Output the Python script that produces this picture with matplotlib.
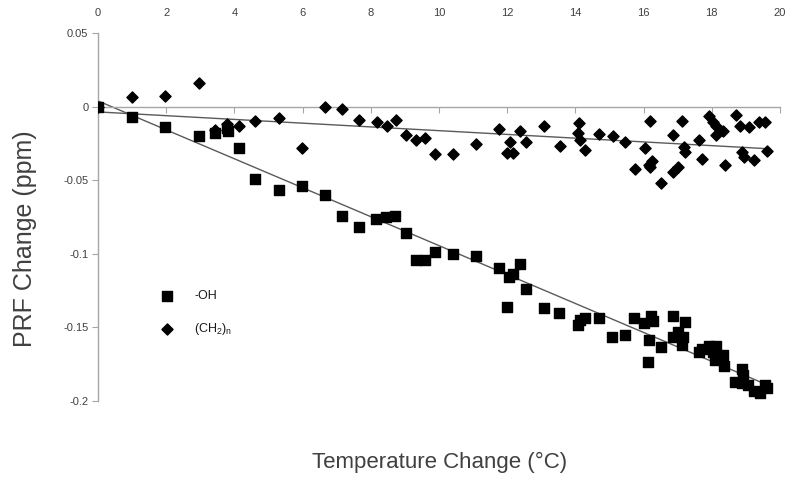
import matplotlib
matplotlib.use('Agg')
import matplotlib.pyplot as plt
import numpy as np
from matplotlib.ticker import FuncFormatter

# Data
oh_temp = [0, 0.99, 1.97, 2.97, 3.44, 3.78, 3.80, 4.13, 4.61, 5.30, 5.98, 6.65,
           7.17, 7.66, 8.16, 8.45, 8.72, 9.02, 9.34, 9.59, 9.88, 10.41, 11.08,
           11.75, 11.99, 12.06, 12.18, 12.37, 12.56, 13.07, 13.53, 14.09, 14.13,
           14.28, 14.68, 15.08, 15.45, 15.73, 16.02, 16.14, 16.17, 16.21, 16.27,
           16.50, 16.85, 16.85, 17.02, 17.12, 17.16, 17.21, 17.62, 17.70, 17.92,
           18.04, 18.09, 18.11, 18.34, 18.37, 18.68, 18.88, 18.89, 18.92, 19.07,
           19.24, 19.41, 19.56, 19.61]
oh_prf = [0, -0.0073, -0.0138, -0.0201, -0.0176, -0.0148, -0.0168, -0.0280,
          -0.0493, -0.0563, -0.0542, -0.0599, -0.0741, -0.0818, -0.0766, -0.0748,
          -0.0741, -0.0861, -0.1039, -0.1039, -0.0988, -0.0999, -0.1015, -0.1094,
          -0.1363, -0.1157, -0.1134, -0.1071, -0.1239, -0.1370, -0.1405, -0.1485,
          -0.1451, -0.1437, -0.1435, -0.1564, -0.1550, -0.1435, -0.1469, -0.1738,
          -0.1587, -0.1424, -0.1456, -0.1636, -0.1422, -0.1564, -0.1530, -0.1620,
          -0.1564, -0.1462, -0.1666, -0.1650, -0.1627, -0.1666, -0.1722, -0.1627,
          -0.1688, -0.1763, -0.1869, -0.1876, -0.1785, -0.1824, -0.1892, -0.1930,
          -0.1948, -0.1892, -0.1915]

ch2_temp = [0, 0.99, 1.97, 2.97, 3.44, 3.79, 4.13, 4.61, 5.30, 5.98, 6.65, 7.16,
            7.66, 8.18, 8.47, 8.74, 9.03, 9.32, 9.60, 9.89, 10.40, 11.08, 11.77,
            11.98, 12.07, 12.18, 12.37, 12.56, 13.08, 13.55, 14.08, 14.11, 14.13,
            14.29, 14.69, 15.09, 15.45, 15.74, 16.03, 16.15, 16.19, 16.19, 16.24,
            16.51, 16.87, 16.87, 17.02, 17.12, 17.18, 17.22, 17.61, 17.70, 17.92,
            18.04, 18.11, 18.11, 18.33, 18.38, 18.72, 18.83, 18.89, 18.94, 19.08,
            19.24, 19.39, 19.56, 19.61]
ch2_prf = [0, 0.0063, 0.0070, 0.0161, -0.0158, -0.0117, -0.0134, -0.0097,
           -0.0077, -0.0283, -0.0002, -0.0018, -0.0090, -0.0102, -0.0134, -0.0088,
           -0.0190, -0.0226, -0.0215, -0.0321, -0.0321, -0.0251, -0.0154, -0.0317,
           -0.0242, -0.0317, -0.0163, -0.0240, -0.0131, -0.0267, -0.0181, -0.0113,
           -0.0226, -0.0292, -0.0185, -0.0201, -0.0240, -0.0425, -0.0283, -0.0393,
           -0.0097, -0.0412, -0.0366, -0.0517, -0.0190, -0.0441, -0.0412, -0.0097,
           -0.0276, -0.0305, -0.0226, -0.0357, -0.0063, -0.0106, -0.0129, -0.0194,
           -0.0163, -0.0393, -0.0059, -0.0131, -0.0310, -0.0344, -0.0140, -0.0362,
           -0.0102, -0.0102, -0.0298]

x_ticks = [0, 2, 4, 6, 8, 10, 12, 14, 16, 18, 20]
y_ticks = [0.05, 0, -0.05, -0.1, -0.15, -0.2]

plt.rcParams['font.family'] = ['Liberation Sans', 'DejaVu Sans']
plt.rcParams['mathtext.fontset'] = 'custom'
plt.rcParams['mathtext.rm'] = 'Liberation Sans'
plt.rcParams['mathtext.it'] = 'Liberation Sans'
plt.rcParams['axes.unicode_minus'] = False

AXIS_GRAY = '#a6a6a6'
LABEL_GRAY = '#404040'
TREND_GRAY = '#5a5a5a'

fig = plt.figure(figsize=(8, 4.8), dpi=100)
ax = fig.add_axes([0.1225, 0.1646, 0.8525, 0.7664])

ax.scatter(oh_temp, oh_prf, marker='s', s=55, color='black', zorder=3, label='-OH')
ax.scatter(ch2_temp, ch2_prf, marker='D', s=32, color='black', zorder=3,
           label='(CH$_\\mathrm{2}$)$_\\mathrm{n}$')

# linear trend lines, like the spreadsheet ones
for xs, ys in [(oh_temp, oh_prf), (ch2_temp, ch2_prf)]:
    slope, icpt = np.polyfit(xs, ys, 1)
    line_x = np.array([0, max(xs)])
    ax.plot(line_x, slope * line_x + icpt, color=TREND_GRAY, lw=1.0, zorder=2)

ax.set_xlim(0, 20)
ax.set_ylim(-0.2, 0.05)
ax.set_xticks(x_ticks)
ax.set_yticks(y_ticks)
ax.yaxis.set_major_formatter(FuncFormatter(lambda v, p: '%g' % round(v, 3)))

ax.spines['bottom'].set_position(('data', 0))
ax.spines['top'].set_visible(False)
ax.spines['right'].set_visible(False)
for side in ['bottom', 'left']:
    ax.spines[side].set_color(AXIS_GRAY)
    ax.spines[side].set_linewidth(1.0)

ax.tick_params(axis='x', top=False, bottom=True, labeltop=True, labelbottom=False,
               direction='out', length=4, color=AXIS_GRAY, labelsize=8,
               labelcolor=LABEL_GRAY, pad=7)
ax.tick_params(axis='y', direction='out', length=4, color=AXIS_GRAY, labelsize=8,
               labelcolor=LABEL_GRAY, pad=3)

ax.set_ylabel('PRF Change (ppm)', fontsize=18, color=LABEL_GRAY)
ax.yaxis.set_label_coords(-0.09, 0.44)
fig.text(0.549, 0.0375, 'Temperature Change (\u00b0C)', fontsize=16,
         color=LABEL_GRAY, ha='center', va='center')

ax.legend(loc='upper left', bbox_to_anchor=(0.075, 0.315), frameon=False,
          fontsize=9, handletextpad=1.2, labelspacing=1.5, borderaxespad=0,
          labelcolor='#1a1a1a')

fig.savefig('out.png', dpi=100)
